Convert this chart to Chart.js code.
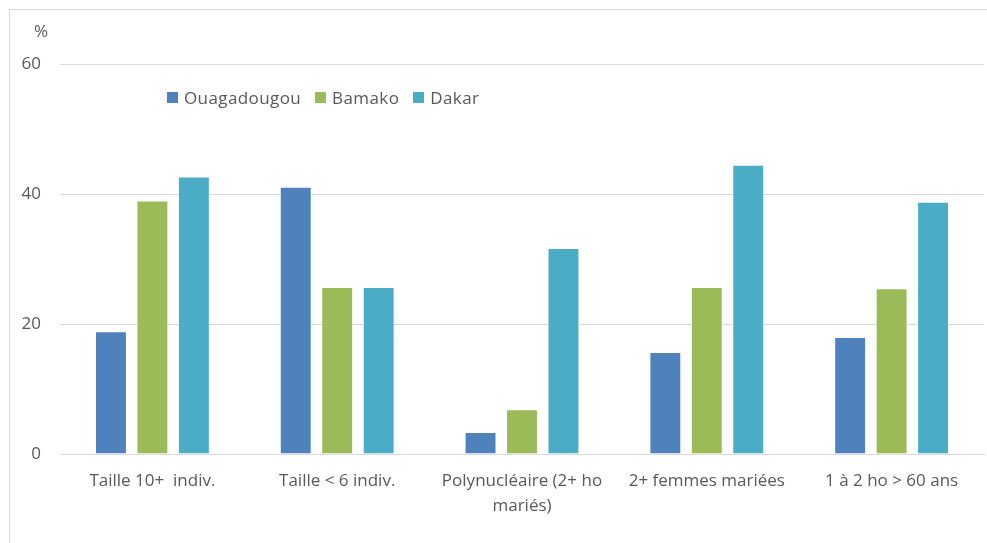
<!DOCTYPE html>
<html>
<head>
<meta charset="utf-8">
<script src="https://cdn.jsdelivr.net/npm/chart.js@4"></script>
<style>
  body { margin: 0; background: #fff; font-family: "Open Sans", sans-serif; }
  #wrap { position: relative; width: 987px; height: 543px; }
  #frame { position: absolute; left: 9px; top: 9px; width: 985px; height: 540px; border: 1px solid #d9d9d9; box-sizing: border-box; }
  #pct { position: absolute; left: 34px; top: 19px; font-size: 17px; color: #595959; }
  #legend { position: absolute; left: 167px; top: 86px; font-size: 17px; letter-spacing: 0.4px; color: #595959; display: flex; }
  #legend span.item { display: flex; align-items: center; margin-right: 14px; }
  #legend span.box { width: 11px; height: 11px; margin-right: 6px; display: inline-block; }
  canvas { position: absolute; left: 0; top: 0; }
</style>
</head>
<body>
<div id="wrap">
  <div id="frame"></div>
  <canvas id="chart" width="987" height="543"></canvas>
  <div id="pct">%</div>
  <div id="legend"></div>
</div>
<script>
  // Categories (x axis) and values per city, in %
  const categories = [
    'Taille 10+  indiv.',
    'Taille < 6 indiv.',
    ['Polynucléaire (2+ ho', 'mariés)'],
    '2+ femmes mariées',
    '1 à 2 ho > 60 ans'
  ];
  const ouagadougou = [18.9, 41.1, 3.4, 15.7, 18.0];
  const bamako = [39.0, 25.7, 6.9, 25.7, 25.5];
  const dakar = [42.7, 25.7, 31.7, 44.5, 38.8];
  const yTicks = [0, 20, 40, 60];

  const cities = ['Ouagadougou', 'Bamako', 'Dakar'];
  const colors = ['#4f81bd', '#9bbb59', '#4bacc6'];
  const seriesValues = [ouagadougou, bamako, dakar];

  // legend built by hand, the original sits inside the plot
  const legendDiv = document.getElementById('legend');
  cities.forEach((name, i) => {
    const item = document.createElement('span');
    item.className = 'item';
    item.innerHTML = '<span class="box" style="background:' + colors[i] + '"></span>' + name;
    legendDiv.appendChild(item);
  });

  const ctx = document.getElementById('chart').getContext('2d');
  new Chart(ctx, {
    type: 'bar',
    data: {
      labels: categories,
      datasets: cities.map((name, i) => ({
        label: name,
        data: seriesValues[i],
        backgroundColor: colors[i],
        borderColor: 'rgba(255,255,255,0.5)',
        borderWidth: 1,
        categoryPercentage: 0.673,
        barPercentage: 0.77
      }))
    },
    options: {
      responsive: false,
      animation: false,
      layout: { padding: { top: 64, right: 3, left: 0, bottom: 0 } },
      plugins: {
        legend: { display: false },
        tooltip: { enabled: false }
      },
      scales: {
        x: {
          grid: { display: false, drawTicks: false },
          border: { color: '#d9d9d9', width: 1 },
          ticks: {
            color: '#595959',
            font: { family: 'Open Sans', size: 17, lineHeight: 1.5 },
            padding: 14,
            maxRotation: 0,
            autoSkip: false
          },
          afterFit: scale => { scale.height = 89; }
        },
        y: {
          min: 0,
          max: 60,
          afterBuildTicks: scale => { scale.ticks = yTicks.map(v => ({ value: v })); },
          grid: { color: '#d9d9d9', drawTicks: false },
          border: { display: false },
          ticks: {
            color: '#595959',
            font: { family: 'Open Sans', size: 17 },
            padding: 19
          },
          afterFit: scale => { scale.width = 60; }
        }
      }
    }
  });
</script>
</body>
</html>
